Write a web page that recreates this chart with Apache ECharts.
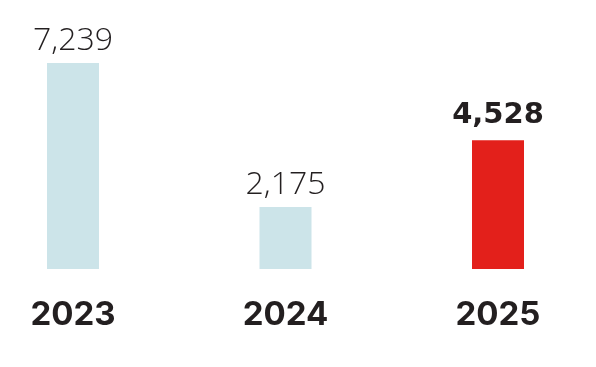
<!DOCTYPE html>
<html><head><meta charset="utf-8">
<script src="https://cdn.jsdelivr.net/npm/echarts@6/dist/echarts.min.js"></script>
<style>html,body{margin:0;padding:0;background:#fff}#c{width:596px;height:367px}</style>
</head><body><div id="c"></div>
<script>
const categories = ['2023', '2024', '2025'];
const values = [7239, 2175, 4528];
const highlight = [false, false, true];

const chart = echarts.init(document.getElementById('c'), null, {renderer: 'canvas'});
chart.setOption({
  animation: false,
  grid: {left: 73, right: 98, top: 20, bottom: 98},
  xAxis: {
    type: 'category', data: categories, boundaryGap: false,
    axisLine: {show: false}, axisTick: {show: false},
    axisLabel: {margin: 30, color: '#231f20', fontSize: 33, fontWeight: 'bold', fontFamily: 'Inter, sans-serif'}
  },
  yAxis: {type: 'value', min: 0, max: 7239 * 249 / 206, show: false, splitLine: {show: false}},
  series: [{
    type: 'bar', barWidth: 52,
    data: values.map((v, i) => ({
      value: v,
      itemStyle: {color: highlight[i] ? '#e3201b' : '#cce4e9'},
      label: highlight[i] ? {
        show: true, position: 'top', distance: 10,
        formatter: p => p.value.toLocaleString('en-US'),
        color: '#231f20', fontFamily: '"DejaVu Sans", sans-serif',
        fontSize: 29, fontWeight: 'bold'
      } : {
        show: true, position: 'top', distance: 6,
        formatter: p => p.value.toLocaleString('en-US'),
        color: '#231f20', fontFamily: '"Open Sans", sans-serif',
        fontSize: 32, fontWeight: 300
      }
    }))
  }]
});
</script></body></html>
